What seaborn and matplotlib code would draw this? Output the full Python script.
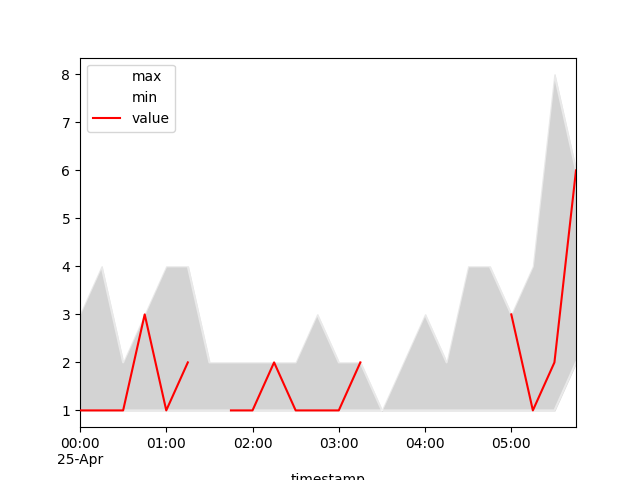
import numpy as np
import pandas as pd
import matplotlib
matplotlib.use('Agg')
import matplotlib.pyplot as plt
import matplotlib.dates as mdates
from matplotlib.ticker import FuncFormatter
import seaborn as sns

# 15-minute samples, 00:00 to 05:45
timestamps = pd.date_range('2023-04-25 00:00', periods=24, freq='15min')
max_vals = [3, 4, 2, 3, 4, 4, 2, 2, 2, 2, 2, 3, 2, 2, 1, 2, 3, 2, 4, 4, 3, 4, 8, 6]
min_vals = [1, 1, 1, 1, 1, 1, 1, 1, 1, 1, 1, 1, 1, 1, 1, 1, 1, 1, 1, 1, 1, 1, 1, 2]
value_vals = [1, 1, 1, 3, 1, 2, np.nan, 1, 1, 2, 1, 1, 1, 2, np.nan, np.nan,
              np.nan, np.nan, np.nan, np.nan, 3, 1, 2, 6]

df = pd.DataFrame({'timestamp': timestamps, 'max': max_vals,
                   'min': min_vals, 'value': value_vals})

# seaborn joins across NaN, so split value into contiguous segments
df['segment'] = df['value'].isna().cumsum()

fig, ax = plt.subplots(figsize=(6.4, 4.8), dpi=100)

# shaded band between min and max
ax.fill_between(df['timestamp'], df['min'], df['max'], color='lightgray', zorder=1)

sns.lineplot(data=df, x='timestamp', y='max', color='white', alpha=0.5,
             label='max', ax=ax, zorder=2)
sns.lineplot(data=df, x='timestamp', y='min', color='white', alpha=0.5,
             label='min', ax=ax, zorder=2)

first = True
for seg, part in df.dropna(subset=['value']).groupby('segment'):
    sns.lineplot(data=part, x='timestamp', y='value', color='red',
                 label='value' if first else '_nolegend_', ax=ax, zorder=3)
    first = False

ax.set_xlim(df['timestamp'].iloc[0], df['timestamp'].iloc[-1])
ax.xaxis.set_major_locator(mdates.HourLocator())

def fmt(x, pos):
    d = mdates.num2date(x)
    if d.hour == 0 and d.minute == 0:
        return d.strftime('%H:%M\n%d-%b')
    return d.strftime('%H:%M')

ax.xaxis.set_major_formatter(FuncFormatter(fmt))
ax.set_xlabel('timestamp')
ax.set_ylabel('')
ax.legend(loc='upper left')

fig.savefig('out.png', dpi=100)
